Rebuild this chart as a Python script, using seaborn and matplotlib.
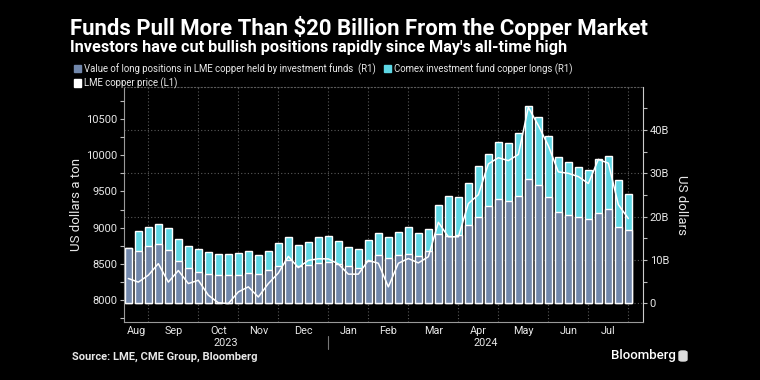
import numpy as np
import pandas as pd
import matplotlib
matplotlib.use('Agg')
import matplotlib.pyplot as plt
import matplotlib.transforms as mtransforms
from matplotlib.patches import Patch, FancyBboxPatch
from matplotlib.ticker import MultipleLocator, FuncFormatter
import seaborn as sns

# weekly (Friday) observations, Aug 18 2023 - Aug 2 2024
weeks = pd.date_range('2023-08-18', '2024-08-02', freq='W-FRI')

# value of long positions in LME copper held by investment funds, $bn (R1)
lme_funds = [12.8, 12.1, 13.2, 13.6, 12.3, 9.8, 8.2, 7.3, 6.8, 6.6,
             6.5, 6.5, 7.0, 6.8, 7.6, 8.7, 10.0, 8.7, 8.9, 9.4,
             9.6, 9.0, 8.7, 8.2, 9.7, 11.1, 10.5, 11.2, 11.5, 11.0,
             12.1, 16.0, 15.5, 15.8, 18.1, 20.0, 22.5, 24.1, 23.5, 24.8,
             28.7, 27.2, 24.5, 21.1, 20.4, 20.0, 19.4, 20.9, 21.7, 17.7,
             16.9]

# Comex investment fund copper longs, $bn (R1) - no value for the first week
comex_longs = [np.nan, 4.7, 4.5, 4.7, 5.0, 5.0, 5.0, 5.3, 5.0, 4.9,
               4.9, 5.1, 5.1, 4.4, 4.5, 5.3, 5.3, 4.8, 5.3, 6.0,
               6.0, 5.3, 4.2, 4.4, 5.0, 5.1, 4.8, 5.2, 6.1, 5.2,
               5.0, 6.8, 9.2, 8.7, 9.7, 11.6, 12.0, 13.1, 13.4, 14.6,
               16.8, 15.9, 14.0, 12.7, 12.2, 11.5, 11.3, 12.3, 12.3, 10.8,
               8.3]

# LME copper price, $/t (L1)
lme_price = [8300, 8250, 8345, 8505, 8250, 8410, 8230, 8275, 8070, 7965,
             7955, 8115, 8185, 8045, 8230, 8375, 8605, 8450, 8550, 8572,
             8570, 8500, 8360, 8360, 8550, 8510, 8185, 8510, 8575, 8515,
             8600, 9075, 8875, 8875, 9333, 9455, 9880, 9965, 9925, 10010,
             10660, 10410, 10130, 9770, 9750, 9705, 9610, 9942, 9890, 9318,
             9127]

month_labels = ['Aug', 'Sep', 'Oct', 'Nov', 'Dec', 'Jan', 'Feb', 'Mar',
                'Apr', 'May', 'Jun', 'Jul']
year_labels = ['2023', '2024']

SLATE = '#7187ab'
CYAN = '#5dd6e4'
GRID = '#5a5a5a'
TXT = '#e8e8e8'

df = pd.DataFrame({'week': np.arange(len(weeks)), 'lme': lme_funds,
                   'comex': comex_longs, 'price': lme_price})
df['total'] = df['lme'] + df['comex'].fillna(0)

sns.set_style('dark', {'axes.facecolor': 'black', 'figure.facecolor': 'black'})
plt.rcParams['font.family'] = ['Roboto', 'DejaVu Sans']

fig = plt.figure(figsize=(7.6, 3.8), dpi=100)
fig.patch.set_facecolor('black')
ax = fig.add_axes([0.1632, 0.1526, 0.6824, 0.6184])

# stacked bars: total (cyan) with LME part (slate) drawn over it
sns.barplot(data=df, x='week', y='total', color=CYAN, saturation=1,
            width=0.73, errorbar=None, ax=ax)
sns.barplot(data=df, x='week', y='lme', color=SLATE, saturation=1,
            width=0.73, errorbar=None, ax=ax)

ax2 = ax.twinx()
sns.lineplot(data=df, x='week', y='price', color='white', lw=1.1, ax=ax2)

# axis sides: bars on the right, price on the left
ax.yaxis.tick_right()
ax.yaxis.set_label_position('right')
ax2.yaxis.tick_left()
ax2.yaxis.set_label_position('left')

xmin, xmax = -0.43, len(weeks) + 0.43
ax.set_xlim(xmin, xmax)
ax.set_ylim(-4.3, 49.9)
ax2.set_ylim(7700, 10940)

# month boundaries = first week of each month
bounds = [i for i in range(1, len(weeks)) if weeks[i].month != weeks[i - 1].month]
edges = [xmin] + bounds + [xmax]
mids = [(a + b) / 2 for a, b in zip(edges[:-1], edges[1:])]
ax.set_xticks(bounds, labels=[''] * len(bounds))
ax.set_xticks(mids[:len(month_labels)], labels=month_labels, minor=True)

ax.yaxis.set_major_locator(MultipleLocator(10))
ax.yaxis.set_minor_locator(MultipleLocator(5))
ax.yaxis.set_major_formatter(FuncFormatter(lambda v, p: '0' if v == 0 else f'{v:.0f}B'))
ax2.yaxis.set_major_locator(MultipleLocator(500))
ax2.yaxis.set_minor_locator(MultipleLocator(250))

ax.set_axisbelow(True)
ax.grid(True, which='major', ls=(0, (1, 2)), color=GRID, lw=0.8)
ax2.grid(False)

ax.tick_params(axis='y', which='both', direction='out', length=3, width=0.8,
               color='#bbbbbb', labelcolor=TXT, labelsize=8, pad=2)
ax2.tick_params(axis='y', which='both', direction='out', length=3, width=0.8,
                color='#bbbbbb', labelcolor=TXT, labelsize=8, pad=2)
ax.tick_params(axis='x', which='major', direction='out', length=4, width=0.8,
               color='#999999')
ax.tick_params(axis='x', which='minor', length=0, labelcolor=TXT,
               labelsize=7.8, pad=3)

for s in ax.spines.values():
    s.set_visible(True)
    s.set_color('#999999')
    s.set_linewidth(0.8)
ax.spines['top'].set_linestyle((0, (1, 2)))
ax.spines['top'].set_color(GRID)
ax.spines['right'].set_color('#cccccc')
for s in ax2.spines.values():
    s.set_visible(False)

ax.set_xlabel('')
ax.set_ylabel('US dollars', rotation=270, va='bottom', color=TXT,
              fontsize=9.5, labelpad=4)
ax2.set_ylabel('US dollars a ton', color=TXT, fontsize=9.5, labelpad=2)

# year labels under the months, with a divider at January
trans = mtransforms.blended_transform_factory(ax.transData, ax.transAxes)
jan = bounds[4]
ax.text((xmin + jan) / 2, -0.09, year_labels[0], transform=trans, ha='center',
        va='center', color=TXT, fontsize=7.8)
ax.text((jan + xmax) / 2, -0.09, year_labels[1], transform=trans, ha='center',
        va='center', color=TXT, fontsize=7.8)
ax.plot([jan, jan], [-0.06, -0.115], transform=trans, color='#777777',
        lw=0.8, clip_on=False)

# titles
fig.text(70 / 760, 1 - 28 / 380, 'Funds Pull More Than $20 Billion From the Copper Market',
         color='white', fontsize=15.9, weight='bold', va='center', ha='left')
fig.text(70 / 760, 1 - 47.5 / 380,
         "Investors have cut bullish positions rapidly since May's all-time high",
         color='white', fontsize=11.7, weight='bold', va='center', ha='left')

handles = [Patch(color=SLATE), Patch(color='white'), Patch(color=CYAN)]
labels = ['Value of long positions in LME copper held by investment funds  (R1)',
          'LME copper price (L1)', 'Comex investment fund copper longs (R1)']
fig.legend(handles, labels, loc='upper left', bbox_to_anchor=(74 / 760, 1 - 63 / 380),
           ncol=2, frameon=False, fontsize=6.95, labelcolor=TXT,
           handlelength=0.75, handleheight=0.75, handletextpad=0.3,
           columnspacing=0.8, labelspacing=0.3, borderpad=0, borderaxespad=0)

fig.text(72 / 760, 1 - 357 / 380, 'Source: LME, CME Group, Bloomberg',
         color=TXT, fontsize=8, weight='bold', va='center', ha='left')
fig.text(611 / 760, 1 - 356 / 380, 'Bloomberg', color='white', fontsize=9.5,
         weight='medium', va='center', ha='left')
fig.patches.append(FancyBboxPatch((679 / 760, 1 - 361 / 380), 8 / 760, 10 / 380,
                                  boxstyle='round,pad=0,rounding_size=0.004',
                                  transform=fig.transFigure, color='#dddddd'))

fig.savefig('out.png', dpi=100, facecolor='black')
